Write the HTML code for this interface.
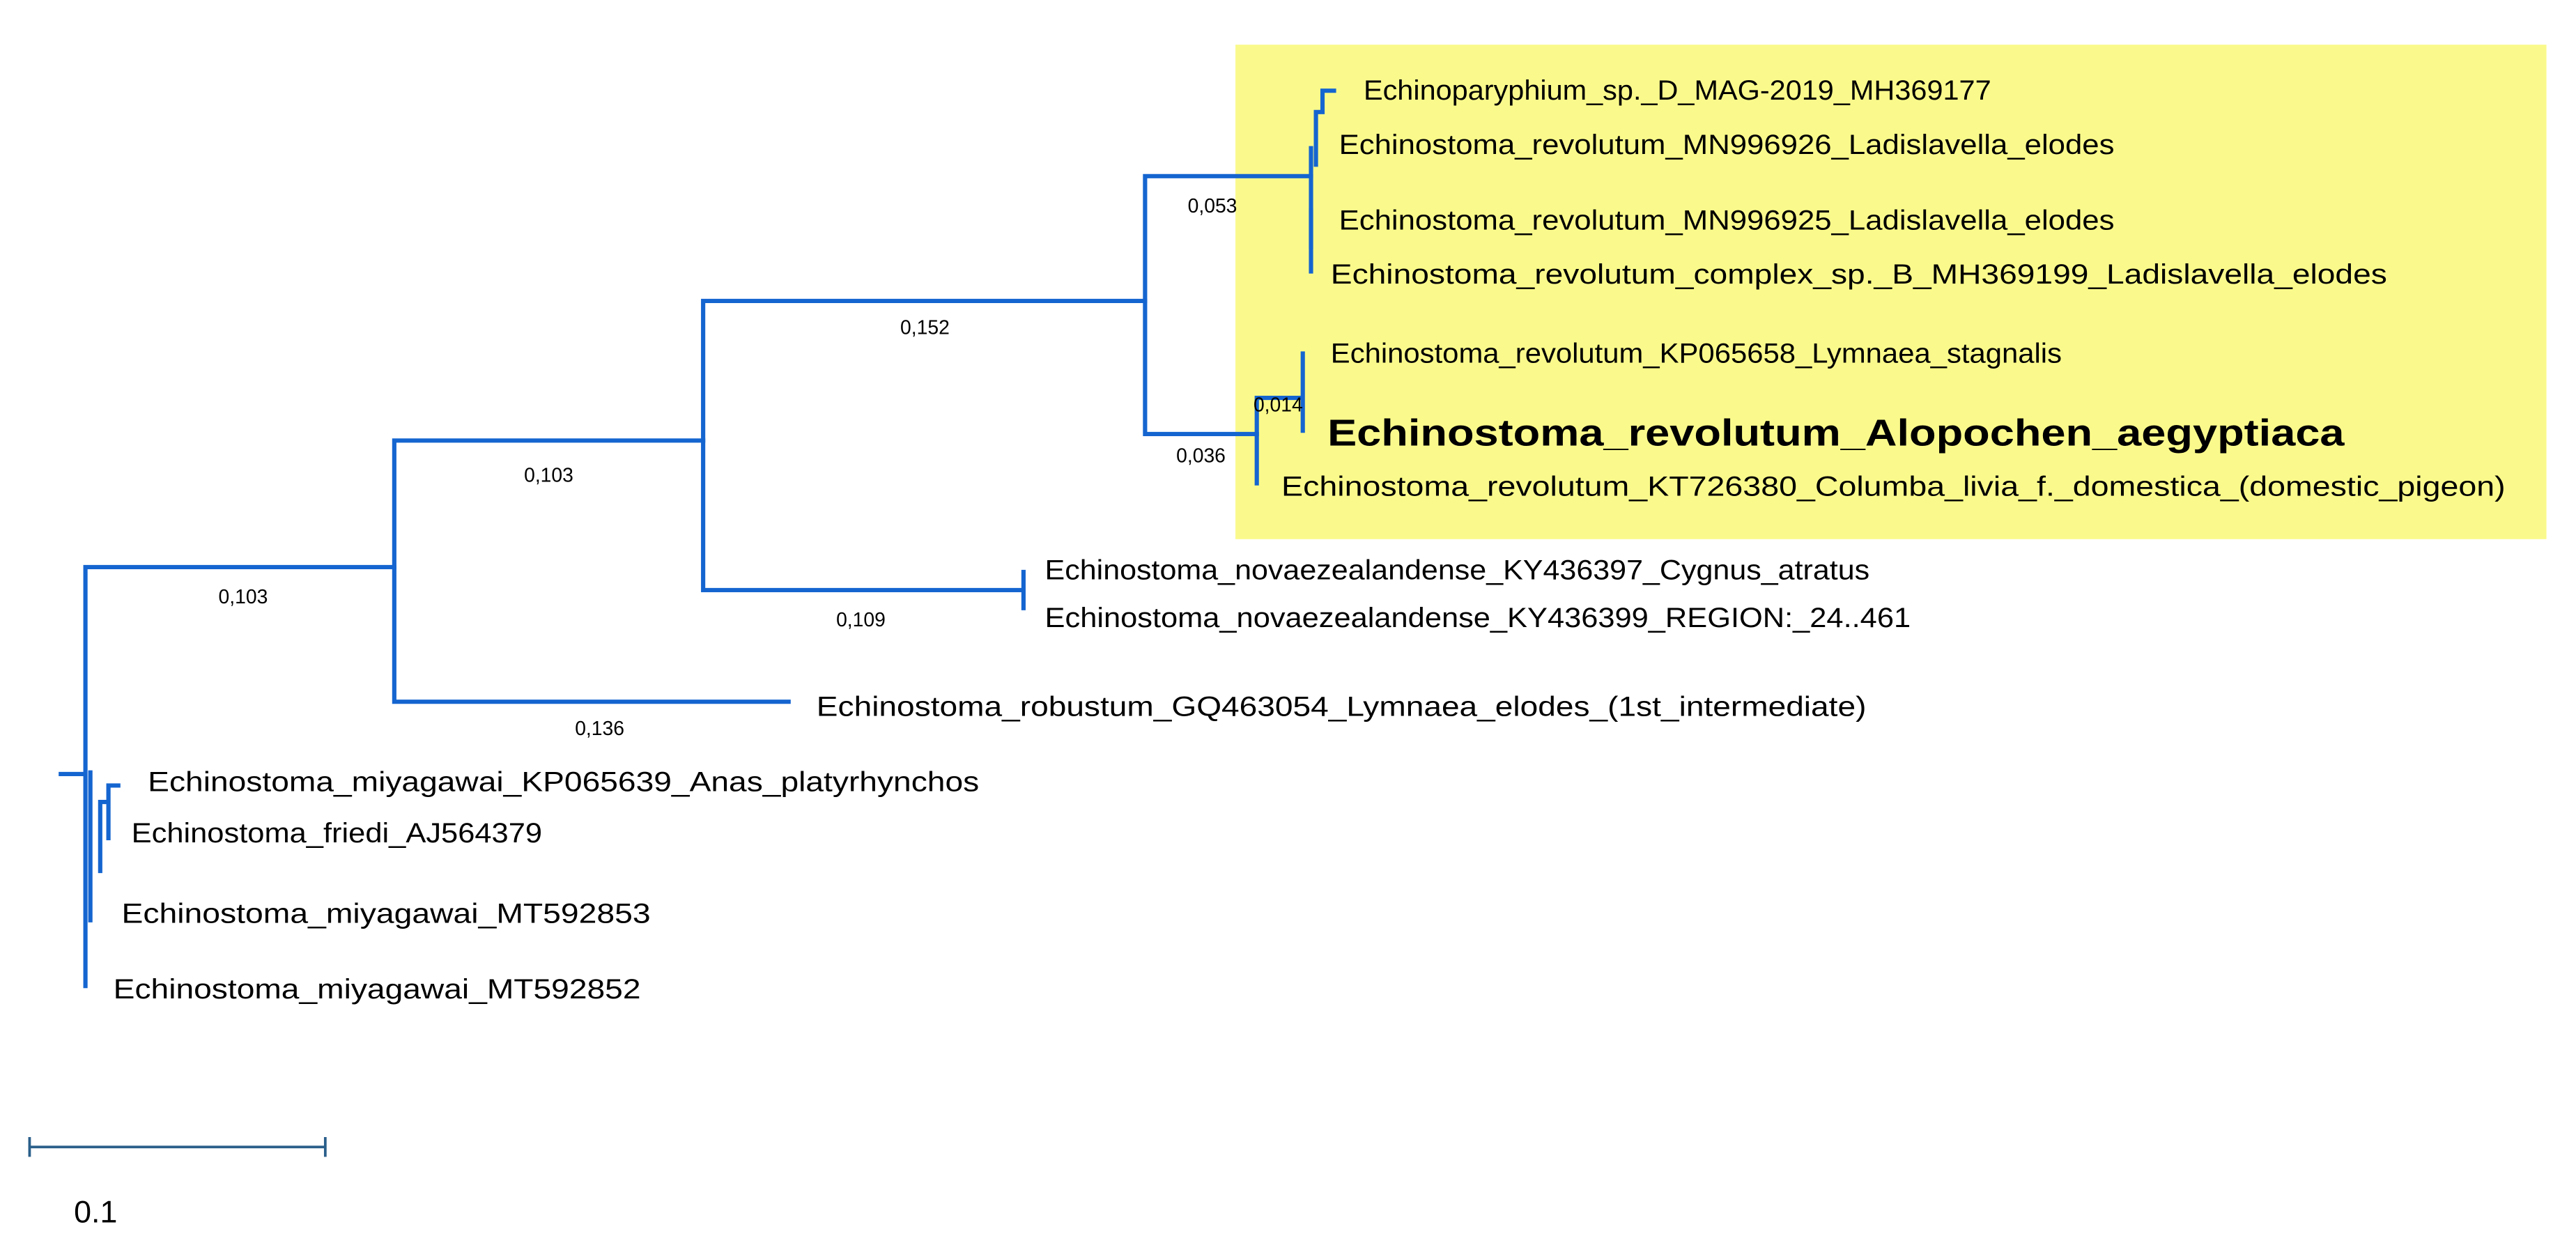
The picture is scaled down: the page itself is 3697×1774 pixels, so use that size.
<!DOCTYPE html>
<html><head><meta charset="utf-8"><style>
html,body{margin:0;padding:0;background:#fff;}
svg{display:block;}
text{font-family:"Liberation Sans",sans-serif;fill:#000;}
</style></head><body>
<svg width="3697" height="1774" viewBox="0 0 1568 752" xmlns="http://www.w3.org/2000/svg">
<rect x="0" y="0" width="1568" height="752" fill="#fff"/>
<rect x="752" y="27" width="798" height="301" fill="#fafa8c"/>
<g stroke="#1565d0" stroke-width="2.6" fill="none" stroke-linecap="square">
<path d="M37 471H52M52 345V600M52 345H240"/>
<path d="M240 268V427M240 268H428M240 427H480"/>
<path d="M428 183V359M428 183H697M428 359H623M623 348V370"/>
<path d="M697 107V264M697 107H798M697 264H765"/>
<path d="M798 90V150M801 68V100M801 68H805M805 55V68M805 55H812"/>
<path d="M798 128V165"/>
<path d="M765 242V294M765 242H793M793 215V262"/>
<path d="M55 470V560M61 488V530M61 488H66M66 478V510M66 478H72"/>
</g>
<g font-size="17" dominant-baseline="middle">
<text x="830" y="56" textLength="382" lengthAdjust="spacingAndGlyphs">Echinoparyphium_sp._D_MAG-2019_MH369177</text>
<text x="815" y="89" textLength="472" lengthAdjust="spacingAndGlyphs">Echinostoma_revolutum_MN996926_Ladislavella_elodes</text>
<text x="815" y="135" textLength="472" lengthAdjust="spacingAndGlyphs">Echinostoma_revolutum_MN996925_Ladislavella_elodes</text>
<text x="810" y="168" textLength="643" lengthAdjust="spacingAndGlyphs">Echinostoma_revolutum_complex_sp._B_MH369199_Ladislavella_elodes</text>
<text x="810" y="216" textLength="445" lengthAdjust="spacingAndGlyphs">Echinostoma_revolutum_KP065658_Lymnaea_stagnalis</text>
<text x="808" y="265" font-size="23" font-weight="bold" textLength="619" lengthAdjust="spacingAndGlyphs">Echinostoma_revolutum_Alopochen_aegyptiaca</text>
<text x="780" y="297" textLength="745" lengthAdjust="spacingAndGlyphs">Echinostoma_revolutum_KT726380_Columba_livia_f._domestica_(domestic_pigeon)</text>
<text x="636" y="348" textLength="502" lengthAdjust="spacingAndGlyphs">Echinostoma_novaezealandense_KY436397_Cygnus_atratus</text>
<text x="636" y="377" textLength="527" lengthAdjust="spacingAndGlyphs">Echinostoma_novaezealandense_KY436399_REGION:_24..461</text>
<text x="497" y="431" textLength="639" lengthAdjust="spacingAndGlyphs">Echinostoma_robustum_GQ463054_Lymnaea_elodes_(1st_intermediate)</text>
<text x="90" y="477" textLength="506" lengthAdjust="spacingAndGlyphs">Echinostoma_miyagawai_KP065639_Anas_platyrhynchos</text>
<text x="80" y="508" textLength="250" lengthAdjust="spacingAndGlyphs">Echinostoma_friedi_AJ564379</text>
<text x="74" y="557" textLength="322" lengthAdjust="spacingAndGlyphs">Echinostoma_miyagawai_MT592853</text>
<text x="69" y="603" textLength="321" lengthAdjust="spacingAndGlyphs">Echinostoma_miyagawai_MT592852</text>
</g>
<g font-size="12" dominant-baseline="middle" text-anchor="middle">
<text x="148" y="364">0,103</text>
<text x="334" y="290">0,103</text>
<text x="365" y="444">0,136</text>
<text x="563" y="200">0,152</text>
<text x="524" y="378">0,109</text>
<text x="738" y="126">0,053</text>
<text x="731" y="278">0,036</text>
<text x="778" y="247">0,014</text>
</g>
<g stroke="#2a5f8a" stroke-width="1.6">
<path d="M18 698H198M18 692V704M198 692V704"/>
</g>
<text x="45" y="739" font-size="19" dominant-baseline="middle">0.1</text>
</svg>
</body></html>
